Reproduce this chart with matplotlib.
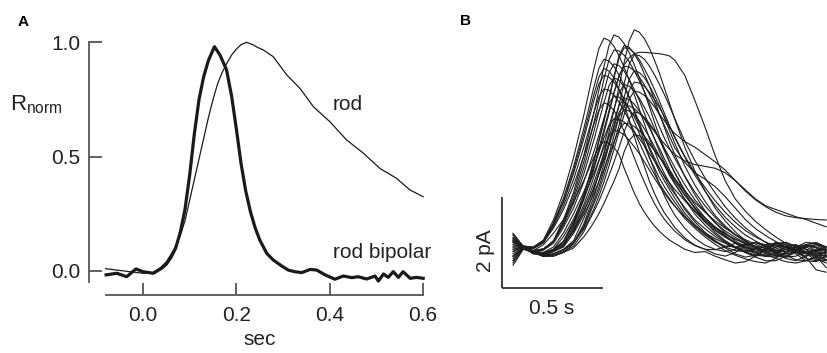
import matplotlib
matplotlib.use("Agg")
import matplotlib.pyplot as plt

plt.rcParams['font.family'] = ['Liberation Sans', 'DejaVu Sans']
plt.rcParams['mathtext.fontset'] = 'custom'
plt.rcParams['mathtext.rm'] = 'Liberation Sans'

# ---- panel A data (normalised responses) ----
rod_t = [-0.08, -0.06, -0.04, -0.02, 0.0, 0.02, 0.036, 0.05, 0.065, 0.079, 0.09,
         0.10, 0.11, 0.12, 0.13, 0.14, 0.15, 0.16, 0.17, 0.18, 0.19, 0.20, 0.21,
         0.222, 0.235, 0.245, 0.258, 0.279, 0.308, 0.336, 0.365, 0.40, 0.436,
         0.472, 0.507, 0.543, 0.572, 0.60]
rod_r = [0.01, 0.005, 0.0, -0.005, -0.01, -0.008, 0.012, 0.04, 0.09, 0.15, 0.22,
         0.31, 0.40, 0.49, 0.58, 0.67, 0.75, 0.82, 0.87, 0.91, 0.945, 0.97, 0.99,
         1.0, 0.99, 0.978, 0.966, 0.937, 0.857, 0.799, 0.718, 0.653, 0.573,
         0.515, 0.449, 0.405, 0.354, 0.325]

bip_t = [-0.079, -0.056, -0.035, -0.015, 0.0, 0.022, 0.04, 0.05, 0.06, 0.07, 0.08,
         0.09, 0.10, 0.11, 0.12, 0.13, 0.14, 0.153, 0.165, 0.179, 0.19, 0.20,
         0.21, 0.22, 0.23, 0.24, 0.25, 0.265, 0.279, 0.297, 0.311, 0.325, 0.34,
         0.358, 0.372, 0.39, 0.411, 0.429, 0.447, 0.461, 0.479, 0.497, 0.504,
         0.515, 0.525, 0.536, 0.547, 0.557, 0.572, 0.586, 0.60]
bip_r = [-0.017, -0.01, -0.025, 0.009, -0.003, -0.01, 0.012, 0.03, 0.06, 0.10, 0.17,
         0.27, 0.42, 0.60, 0.75, 0.85, 0.92, 0.981, 0.944, 0.879, 0.762, 0.62,
         0.47, 0.35, 0.26, 0.19, 0.136, 0.077, 0.048, 0.022, 0.004, -0.003, -0.007,
         0.007, 0.004, -0.017, -0.036, -0.022, -0.029, -0.025, -0.035, -0.022, -0.044,
         -0.013, -0.028, -0.003, -0.028, -0.003, -0.032, -0.028, -0.032]

# ---- panel B data (single-photon responses, pA) ----
t_b = [0.00, 0.05, 0.10, 0.15, 0.20, 0.25, 0.30, 0.35, 0.375, 0.40, 0.425,
       0.45, 0.475, 0.50, 0.525, 0.55, 0.575, 0.60, 0.625, 0.65, 0.675,
       0.70, 0.725, 0.75, 0.775, 0.80, 0.85, 0.90, 0.95, 1.00, 1.05,
       1.10, 1.15, 1.20, 1.25, 1.30, 1.35, 1.40, 1.45, 1.50, 1.55]

traces = [
    [0.25, 0.02, 0.0, 0.15, 0.59, 1.19, 1.96, 2.87, 3.37, 3.88, 4.33,
     4.56, 4.51, 4.38, 4.17, 3.92, 3.65, 3.33, 3.01, 2.69, 2.37,
     2.10, 1.82, 1.60, 1.39, 1.19, 0.82, 0.55, 0.32, 0.14, 0.0,
     -0.08, -0.10, -0.05, 0.05, 0.08, 0.0, -0.12, -0.20, -0.15, -0.12],
    [-0.10, 0.0, -0.12, -0.20, -0.15, -0.05, 0.14, 0.62, 0.90, 1.23, 1.61,
     2.04, 2.51, 2.99, 3.51, 4.03, 4.50, 4.74, 4.69, 4.55, 4.34,
     4.08, 3.79, 3.46, 3.13, 2.80, 2.18, 1.66, 1.23, 0.85, 0.57,
     0.33, 0.14, 0.0, -0.08, -0.12, -0.05, 0.02, 0.0, -0.10, -0.15],
    [-0.30, -0.02, -0.10, -0.05, 0.14, 0.60, 1.20, 1.99, 2.45, 2.92, 3.43,
     3.94, 4.40, 4.63, 4.58, 4.44, 4.24, 3.98, 3.70, 3.38, 3.06,
     2.73, 2.41, 2.13, 1.85, 1.62, 1.20, 0.83, 0.56, 0.32, 0.14,
     0.0, -0.10, -0.18, -0.20, -0.10, 0.02, 0.05, -0.05, -0.20, -0.28],
    [0.10, 0.0, -0.08, -0.12, -0.05, 0.12, 0.50, 1.05, 1.38, 1.75, 2.15,
     2.57, 2.98, 3.38, 3.72, 3.98, 4.13, 4.22, 4.25, 4.25, 4.24,
     4.23, 4.22, 4.20, 4.17, 4.08, 3.75, 3.20, 2.62, 2.00, 1.45,
     1.05, 0.78, 0.56, 0.38, 0.22, 0.08, -0.05, -0.12, -0.08, 0.0],
    [0.15, 0.0, -0.10, -0.15, -0.06, 0.13, 0.57, 1.14, 1.50, 1.89, 2.33,
     2.77, 3.26, 3.74, 4.18, 4.40, 4.36, 4.22, 4.03, 3.78, 3.52,
     3.21, 2.90, 2.60, 2.29, 2.02, 1.54, 1.14, 0.79, 0.53, 0.31,
     0.13, 0.0, -0.10, -0.05, 0.08, 0.10, 0.0, -0.15, -0.28, -0.30],
    [-0.40, -0.05, -0.12, -0.06, 0.12, 0.56, 1.12, 1.85, 2.28, 2.71, 3.18,
     3.66, 4.09, 4.30, 4.28, 4.19, 4.04, 3.85, 3.63, 3.40, 3.14,
     2.88, 2.62, 2.37, 2.15, 1.94, 1.55, 1.20, 0.90, 0.65, 0.43,
     0.26, 0.13, 0.0, -0.10, -0.18, -0.15, 0.0, 0.10, 0.08, 0.0],
    [0.30, 0.02, -0.01, 0.12, 0.53, 1.07, 1.76, 2.58, 3.03, 3.49, 3.90,
     4.10, 4.06, 3.94, 3.75, 3.53, 3.28, 2.99, 2.71, 2.42, 2.13,
     1.89, 1.64, 1.44, 1.25, 1.07, 0.74, 0.49, 0.29, 0.12, -0.02,
     -0.15, -0.22, -0.18, -0.05, 0.05, 0.0, -0.15, -0.30, -0.32, -0.20],
    [0.0, 0.0, -0.10, -0.18, -0.06, 0.06, 0.46, 1.03, 1.34, 1.70, 2.09,
     2.49, 2.92, 3.36, 3.75, 3.95, 3.93, 3.85, 3.71, 3.54, 3.34,
     3.12, 2.88, 2.65, 2.41, 2.17, 1.85, 1.62, 1.48, 1.32, 1.10,
     0.85, 0.60, 0.40, 0.25, 0.12, 0.0, -0.05, 0.02, 0.0, -0.12],
    [-0.20, -0.02, -0.10, -0.20, -0.15, -0.06, 0.10, 0.45, 0.73, 1.00, 1.31,
     1.66, 2.04, 2.43, 2.85, 3.27, 3.66, 3.85, 3.81, 3.70, 3.52,
     3.31, 3.08, 2.81, 2.54, 2.27, 1.77, 1.35, 1.00, 0.69, 0.46,
     0.27, 0.12, 0.0, -0.10, -0.18, -0.20, -0.10, 0.05, 0.08, -0.05],
    [0.20, 0.0, -0.08, -0.04, 0.12, 0.48, 0.96, 1.59, 1.96, 2.33, 2.74,
     3.15, 3.52, 3.70, 3.64, 3.50, 3.26, 2.96, 2.63, 2.29, 1.96,
     1.67, 1.37, 1.11, 0.89, 0.70, 0.41, 0.19, 0.04, -0.05, -0.10,
     -0.05, 0.05, 0.10, 0.02, -0.12, -0.22, -0.20, -0.10, -0.15, -0.28],
    [-0.15, -0.02, -0.12, -0.18, -0.10, 0.02, 0.41, 0.92, 1.21, 1.53, 1.88,
     2.24, 2.63, 3.02, 3.37, 3.55, 3.51, 3.41, 3.25, 3.05, 2.84,
     2.59, 2.34, 2.09, 1.85, 1.63, 1.24, 0.92, 0.64, 0.43, 0.25,
     0.10, -0.02, -0.12, -0.20, -0.22, -0.12, 0.0, 0.05, -0.08, -0.22],
    [0.05, 0.0, -0.10, -0.20, -0.15, -0.07, 0.09, 0.39, 0.60, 0.83, 1.11,
     1.42, 1.77, 2.14, 2.52, 2.89, 3.23, 3.40, 3.38, 3.31, 3.20,
     3.06, 2.90, 2.75, 2.60, 2.48, 2.30, 2.18, 2.02, 1.86, 1.68,
     1.45, 1.22, 1.03, 0.88, 0.76, 0.68, 0.64, 0.62, 0.60, 0.59],
    [-0.25, -0.03, -0.10, -0.15, -0.07, 0.07, 0.35, 0.76, 1.02, 1.30, 1.62,
     1.95, 2.29, 2.64, 2.94, 3.10, 3.08, 3.02, 2.92, 2.80, 2.66,
     2.52, 2.38, 2.25, 2.13, 2.02, 1.88, 1.80, 1.76, 1.72, 1.62,
     1.45, 1.25, 1.05, 0.90, 0.82, 0.74, 0.66, 0.60, 0.52, 0.44],
    [0.10, 0.0, -0.10, -0.07, 0.08, 0.43, 0.86, 1.42, 1.75, 2.08, 2.44,
     2.81, 3.14, 3.30, 3.27, 3.17, 3.02, 2.84, 2.64, 2.41, 2.18,
     1.95, 1.72, 1.52, 1.32, 1.16, 0.86, 0.59, 0.40, 0.23, 0.10,
     -0.02, -0.12, -0.20, -0.15, 0.0, 0.10, 0.02, -0.12, -0.20, -0.10],
    [-0.35, -0.05, -0.02, 0.10, 0.41, 0.82, 1.35, 1.98, 2.33, 2.68, 2.99,
     3.15, 3.10, 2.98, 2.77, 2.52, 2.24, 1.95, 1.67, 1.42, 1.17,
     0.95, 0.76, 0.60, 0.47, 0.35, 0.16, 0.03, -0.05, -0.15, -0.20,
     -0.12, 0.02, 0.10, 0.05, -0.08, -0.18, -0.28, -0.30, -0.20, -0.18],
    [0.18, 0.0, -0.12, -0.20, -0.18, -0.10, 0.02, 0.33, 0.56, 0.77, 1.00,
     1.27, 1.56, 1.86, 2.18, 2.51, 2.80, 2.95, 2.92, 2.83, 2.70,
     2.54, 2.36, 2.15, 1.95, 1.74, 1.36, 1.03, 0.77, 0.53, 0.35,
     0.21, 0.09, -0.02, -0.12, -0.20, -0.22, -0.12, 0.0, 0.05, -0.08],
    [-0.10, 0.0, -0.15, -0.12, 0.0, 0.31, 0.73, 1.20, 1.48, 1.76, 2.07,
     2.38, 2.66, 2.80, 2.79, 2.73, 2.63, 2.51, 2.37, 2.21, 2.04,
     1.88, 1.71, 1.54, 1.40, 1.26, 1.01, 0.78, 0.59, 0.42, 0.28,
     0.17, 0.08, 0.02, -0.03, -0.08, -0.10, -0.05, 0.02, 0.0, -0.08],
    [0.05, 0.0, -0.15, -0.18, -0.05, 0.23, 0.61, 1.10, 1.35, 1.61, 1.89,
     2.17, 2.42, 2.55, 2.52, 2.45, 2.33, 2.19, 2.04, 1.86, 1.68,
     1.50, 1.33, 1.17, 1.02, 0.89, 0.66, 0.46, 0.31, 0.18, 0.08,
     -0.02, -0.12, -0.22, -0.30, -0.30, -0.20, -0.06, 0.04, -0.02, -0.18],
    [-0.20, -0.02, -0.08, 0.05, 0.30, 0.60, 0.99, 1.45, 1.70, 1.96, 2.19,
     2.30, 2.27, 2.17, 2.02, 1.72, 1.45, 1.18, 0.95, 0.76, 0.60,
     0.46, 0.34, 0.24, 0.15, 0.08, -0.05, -0.12, -0.10, -0.20, -0.28,
     -0.35, -0.32, -0.20, -0.08, 0.0, 0.02, -0.08, -0.22, -0.50, -0.55],
    [0.10, 0.0, -0.10, -0.20, -0.20, -0.12, 0.07, 0.50, 0.80, 1.09, 1.43,
     1.81, 2.23, 2.65, 3.11, 3.57, 3.99, 4.20, 4.18, 4.10, 3.95,
     3.76, 3.55, 3.32, 3.07, 2.81, 2.31, 1.89, 1.51, 1.18, 0.88,
     0.63, 0.42, 0.25, 0.10, -0.02, -0.10, -0.05, 0.05, 0.10, 0.0],
    [0.20, 0.02, -0.01, 0.10, 0.49, 0.98, 1.61, 2.36, 2.78, 3.19, 3.56,
     3.75, 3.71, 3.60, 3.43, 3.23, 3.00, 2.74, 2.48, 2.21, 1.95,
     1.73, 1.50, 1.31, 1.14, 0.98, 0.68, 0.45, 0.26, 0.11, 0.02,
     0.0, 0.05, 0.10, 0.0, -0.15, -0.25, -0.30, -0.20, -0.05, -0.05],
    [-0.05, 0.0, -0.12, -0.20, -0.15, -0.06, 0.09, 0.42, 0.68, 0.94, 1.22,
     1.55, 1.91, 2.27, 2.66, 3.06, 3.42, 3.60, 3.58, 3.51, 3.38,
     3.22, 3.04, 2.84, 2.63, 2.41, 1.98, 1.62, 1.30, 1.01, 0.76,
     0.54, 0.36, 0.22, 0.11, 0.02, -0.05, -0.10, -0.12, -0.08, -0.05],
    [0.28, 0.0, -0.10, -0.18, -0.07, 0.07, 0.34, 0.78, 1.02, 1.29, 1.59,
     1.89, 2.22, 2.55, 2.85, 3.00, 2.97, 2.88, 2.75, 2.58, 2.40,
     2.19, 1.98, 1.77, 1.56, 1.38, 1.05, 0.78, 0.54, 0.36, 0.21,
     0.09, 0.0, -0.05, 0.0, 0.10, 0.05, -0.10, -0.25, -0.30, -0.20],
    [-0.10, 0.0, -0.08, -0.04, 0.11, 0.52, 1.04, 1.72, 2.12, 2.52, 2.96,
     3.40, 3.80, 4.00, 3.96, 3.84, 3.66, 3.44, 3.20, 2.92, 2.64,
     2.36, 2.08, 1.84, 1.60, 1.40, 1.04, 0.72, 0.48, 0.28, 0.12,
     0.0, -0.08, -0.10, -0.05, 0.05, 0.0, -0.10, -0.15, -0.12, -0.22],
    [-0.30, -0.02, -0.12, -0.20, -0.10, 0.0, 0.30, 0.70, 0.92, 1.16, 1.43,
     1.70, 2.00, 2.30, 2.57, 2.70, 2.69, 2.63, 2.54, 2.42, 2.28,
     2.13, 1.97, 1.81, 1.65, 1.49, 1.22, 0.97, 0.76, 0.57, 0.41,
     0.27, 0.16, 0.06, -0.04, -0.12, -0.15, -0.10, 0.0, 0.05, 0.0],
    [0.15, 0.0, -0.04, 0.09, 0.45, 0.90, 1.48, 2.17, 2.55, 2.93, 3.28,
     3.45, 3.42, 3.31, 3.16, 2.97, 2.76, 2.52, 2.28, 2.04, 1.79,
     1.59, 1.38, 1.21, 1.05, 0.90, 0.62, 0.41, 0.22, 0.06, -0.08,
     -0.18, -0.26, -0.32, -0.35, -0.25, -0.10, 0.0, -0.05, -0.20, -0.45],
    [0.0, 0.0, -0.10, -0.15, -0.06, 0.12, 0.52, 1.13, 1.48, 1.87, 2.31,
     2.74, 3.22, 3.70, 4.13, 4.35, 4.33, 4.24, 4.09, 3.89, 3.68,
     3.44, 3.18, 2.91, 2.65, 2.39, 1.96, 1.57, 1.22, 0.91, 0.65,
     0.44, 0.26, 0.13, 0.02, -0.06, -0.10, -0.08, -0.12, -0.18, -0.20],
    [0.12, 0.0, -0.10, -0.20, -0.20, -0.12, -0.02, 0.22, 0.37, 0.54, 0.73,
     0.95, 1.20, 1.44, 1.71, 2.08, 2.33, 2.45, 2.43, 2.35, 2.24,
     2.11, 1.96, 1.79, 1.62, 1.45, 1.13, 0.86, 0.64, 0.44, 0.29,
     0.17, 0.07, -0.05, -0.15, -0.25, -0.32, -0.35, -0.30, -0.22, -0.28],
    [-0.05, 0.0, -0.01, 0.12, 0.51, 1.01, 1.68, 2.46, 2.89, 3.32, 3.71,
     3.90, 3.84, 3.69, 3.43, 3.12, 2.77, 2.42, 2.07, 1.76, 1.44,
     1.17, 0.94, 0.74, 0.59, 0.43, 0.20, 0.04, -0.05, -0.06, 0.0,
     0.08, 0.05, -0.10, -0.20, -0.15, 0.0, 0.05, -0.05, -0.10, -0.05],
    [-0.20, -0.02, -0.12, -0.15, -0.09, 0.03, 0.37, 0.85, 1.11, 1.40, 1.72,
     2.05, 2.41, 2.76, 3.09, 3.25, 3.22, 3.12, 2.97, 2.80, 2.60,
     2.37, 2.15, 1.92, 1.69, 1.50, 1.14, 0.85, 0.59, 0.39, 0.23,
     0.08, -0.05, -0.15, -0.20, -0.15, -0.05, 0.0, -0.10, -0.25, -0.35],
]

fig = plt.figure(figsize=(8.27, 3.53), dpi=100)

# panel A
axa = fig.add_axes([89 / 827, 1 - 295.3 / 353, 341 / 827, 257.3 / 353])
axa.plot(rod_t, rod_r, color='#1a1a1a', lw=0.9)
axa.plot(bip_t, bip_r, color='#1a1a1a', lw=2.3)
axa.set_xlim(-0.1156, 0.6146)
axa.set_ylim(-0.1063, 1.0188)
for s in ['top', 'right']:
    axa.spines[s].set_visible(False)
for s in ['left', 'bottom']:
    axa.spines[s].set_color('#555555')
    axa.spines[s].set_linewidth(1.3)
axa.spines['left'].set_bounds(-0.05, 1.0)
axa.spines['bottom'].set_bounds(-0.08, 0.6)
axa.set_xticks([0.0, 0.2, 0.4, 0.6])
axa.set_xticklabels(['0.0', '0.2', '0.4', '0.6'])
axa.set_yticks([0.0, 0.5, 1.0])
axa.set_yticklabels(['0.0', '0.5', '1.0'])
axa.tick_params(direction='in', length=9, width=1.3, color='#555555',
                labelsize=15, labelcolor='#222222')
axa.tick_params(axis='x', pad=8)
axa.tick_params(axis='y', pad=6)
axa.set_xlabel('sec', fontsize=15, color='#222222', labelpad=3)
fig.text(10 / 827, 1 - 105 / 353, r'R$_{\rm norm}$', fontsize=16,
         color='#222222', va='center', ha='left')
fig.text(333 / 827, 1 - 104 / 353, 'rod', fontsize=15, color='#222222',
         va='center', ha='left')
fig.text(333 / 827, 1 - 252 / 353, 'rod bipolar', fontsize=15,
         color='#222222', va='center', ha='left')
fig.text(23 / 827, 1 - 22 / 353, 'A', fontsize=11, fontweight='bold',
         va='center', ha='center')

# panel B
axb = fig.add_axes([490 / 827, 33 / 353, 337 / 827, 300 / 353])
for tr in traces:
    assert len(tr) == len(t_b)
    axb.plot(t_b, tr, color='#1e1e1e', lw=0.8)
axb.set_xlim(-0.114, 1.554)
axb.set_ylim(-1.594, 4.956)
axb.axis('off')
# scale bars: 0.5 s and 2 pA
axb.plot([-0.056, -0.056], [1.098, -0.902], color='#333333', lw=1.3,
         solid_capstyle='butt')
axb.plot([-0.056, 0.444], [-0.902, -0.902], color='#333333', lw=1.3,
         solid_capstyle='butt')
fig.text(486 / 827, 1 - 251 / 353, '2 pA', fontsize=15, color='#222222',
         rotation=90, va='center', ha='center')
fig.text(552 / 827, 1 - 308 / 353, '0.5 s', fontsize=15, color='#222222',
         va='center', ha='center')
fig.text(465 / 827, 1 - 21 / 353, 'B', fontsize=11, fontweight='bold',
         va='center', ha='center')

fig.savefig('out.png', dpi=100)
